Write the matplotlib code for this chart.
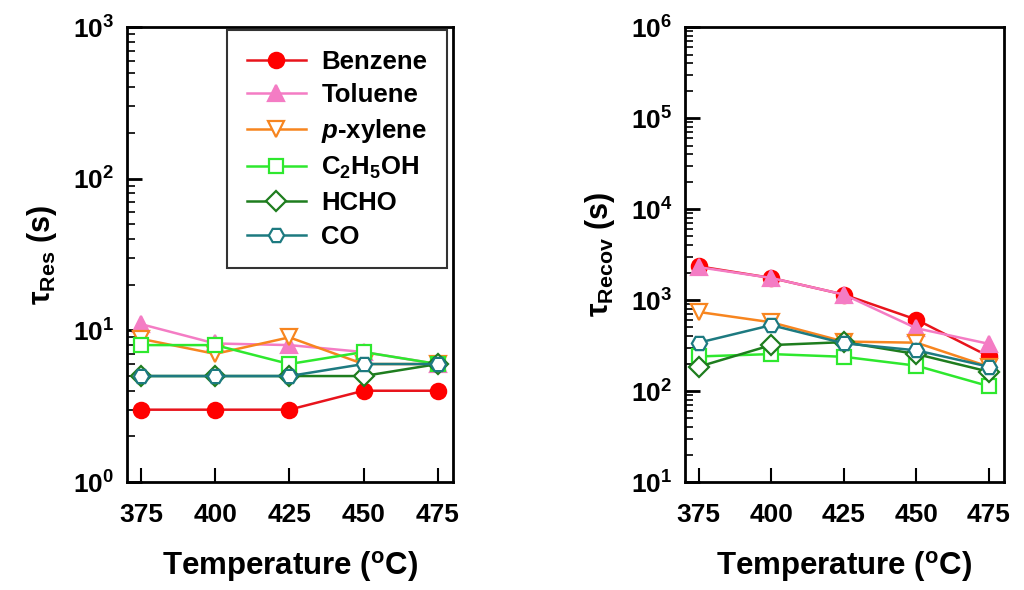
import numpy as np
import matplotlib
matplotlib.use('Agg')
import matplotlib.pyplot as plt

plt.rcParams['font.family'] = 'Liberation Sans'
plt.rcParams['font.weight'] = 'bold'
plt.rcParams['mathtext.fontset'] = 'custom'
plt.rcParams['mathtext.rm'] = 'Liberation Sans'
plt.rcParams['mathtext.it'] = 'Liberation Sans:italic'
plt.rcParams['mathtext.bf'] = 'Liberation Sans:bold'

temps = [375, 400, 425, 450, 475]
names = ['Benzene', 'Toluene', r'$\mathbf{\mathit{p}}$-xylene', r'C$_\mathbf{2}$H$_\mathbf{5}$OH', 'HCHO', 'CO']

# response time (s)
res_benzene = [3, 3, 3, 4, 4]
res_toluene = [11, 8.2, 8, 7.2, 6]
res_xylene = [8.8, 7, 9, 6, 6]
res_ethanol = [8, 8, 6, 7.2, 6]
res_hcho = [5, 5, 5, 5, 6]
res_co = [5, 5, 5, 6, 6]

# recovery time (s)
rec_benzene = [2350, 1750, 1150, 610, 240]
rec_toluene = [2300, 1750, 1150, 490, 330]
rec_xylene = [740, 570, 350, 340, 185]
rec_ethanol = [240, 255, 238, 190, 113]
rec_hcho = [185, 320, 345, 255, 163]
rec_co = [340, 530, 335, 280, 185]

colors = ['#e8141c', '#f47cc4', '#f7851f', '#2ee82e', '#1e7d1e', '#1d7a80']
mfcs = ['#ff0000', '#f47cc4', 'white', 'white', 'white', 'white']
markers = ['o', '^', 'v', 's', 'D', 'H']
msizes = [11, 11, 11, 10, 10, 11]

res_all = [res_benzene, res_toluene, res_xylene, res_ethanol, res_hcho, res_co]
rec_all = [rec_benzene, rec_toluene, rec_xylene, rec_ethanol, rec_hcho, rec_co]

fig = plt.figure(figsize=(10.24, 5.9), dpi=100)
ax1 = fig.add_axes([0.124, 0.183, 0.318, 0.771])
ax2 = fig.add_axes([0.669, 0.183, 0.311, 0.771])

for ax, data in [(ax1, res_all), (ax2, rec_all)]:
    for i in range(6):
        ax.plot(temps, data[i], color=colors[i], marker=markers[i], ms=msizes[i],
                mfc=mfcs[i], mec=colors[i] if i > 1 else mfcs[i], mew=1.6, lw=1.8,
                label=names[i])
    ax.set_yscale('log')
    ax.set_xlim(370.3, 480)
    ax.set_xticks(temps)
    for s in ax.spines.values():
        s.set_linewidth(2)
    ax.tick_params(which='major', direction='in', length=11, width=2, labelsize=19, pad=9)
    ax.tick_params(which='minor', direction='in', length=6, width=1.2)
    ax.tick_params(axis='x', which='major', length=10, width=1.5, pad=15)
    for lab in ax.get_xticklabels() + ax.get_yticklabels():
        lab.set_fontweight('bold')
    ax.set_xlabel(r'Temperature ($^\mathbf{o}$C)', fontsize=22.5, fontweight='bold', labelpad=16)

ax1.set_ylim(1, 1000)
ax2.set_ylim(10, 1e6)
ax1.set_ylabel(r'$\mathrm{\tau}_\mathbf{Res}$ (s)', fontsize=22, fontweight='bold', labelpad=10)
ax2.set_ylabel(r'$\mathrm{\tau}_\mathbf{Recov}$ (s)', fontsize=22, fontweight='bold', labelpad=10)

leg = ax1.legend(loc='upper right', bbox_to_anchor=(0.982, 0.993), borderaxespad=0,
                 fontsize=18.5, frameon=True, fancybox=False, edgecolor='black',
                 handlelength=2.3, handletextpad=0.6, labelspacing=0.38, borderpad=0.75)
leg.get_frame().set_linewidth(1.5)
for t in leg.get_texts():
    t.set_fontweight('bold')

fig.savefig('out.png', dpi=100)
